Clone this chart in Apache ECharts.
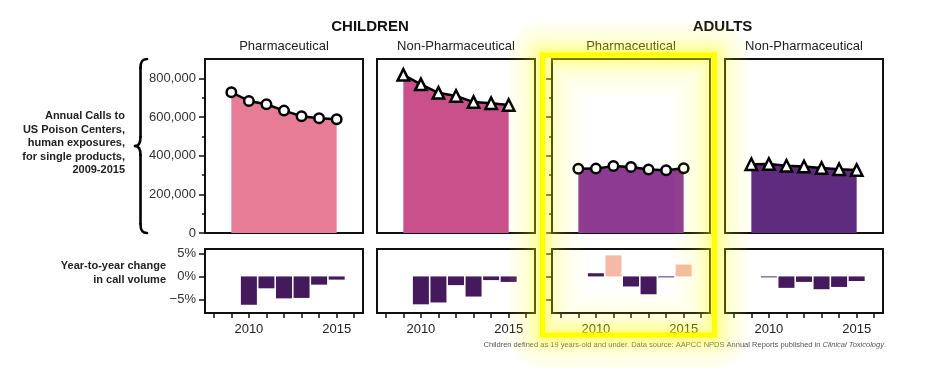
<!DOCTYPE html>
<html><head><meta charset="utf-8">
<script src="https://cdn.jsdelivr.net/npm/echarts@6/dist/echarts.min.js"></script>
<style>html,body{margin:0;padding:0;background:#fff}#c{width:931px;height:376px}</style>
</head><body><div id="c"></div>
<script>
// ---------- data ----------
const years = [2009, 2010, 2011, 2012, 2013, 2014, 2015];
const changeYears = [2010, 2011, 2012, 2013, 2014, 2015];
const childPharma = [728000, 683000, 666000, 633000, 604000, 593000, 588000];
const childNonPharma = [818000, 769000, 725000, 709000, 677000, 671000, 662000];
const adultPharma = [332000, 333000, 347000, 341000, 328000, 325000, 335000];
const adultNonPharma = [356000, 357000, 348000, 344000, 336000, 330000, 326000];
const childPharmaChange = [-6.2, -2.6, -4.8, -4.7, -1.8, -0.7];
const childNonPharmaChange = [-6.1, -5.7, -1.9, -4.4, -0.8, -1.2];
const adultPharmaChange = [0.7, 4.6, -2.2, -3.9, -0.2, 2.6];
const adultNonPharmaChange = [-0.2, -2.5, -1.2, -2.8, -2.3, -1.0];
const groupTitles = ['CHILDREN', 'ADULTS'];
const panelTitles = ['Pharmaceutical', 'Non-Pharmaceutical', 'Pharmaceutical', 'Non-Pharmaceutical'];
const callMajorTicks = [0, 200000, 400000, 600000, 800000];
const callMinorTicks = [100000, 300000, 500000, 700000];
const changeTicks = [-5, 0, 5];
const yearTicks = [2008, 2009, 2010, 2011, 2012, 2013, 2014, 2015, 2016];
const yearLabels = [2010, 2015];
const callsLabel = 'Annual Calls to\nUS Poison Centers,\nhuman exposures,\nfor single products,\n2009-2015';
const changeLabel = 'Year-to-year change\nin call volume';
const footnoteMain = 'Children defined as 19 years-old and under. Data source: AAPCC NPDS Annual Reports published in ';
const footnoteItalic = 'Clinical Toxicology';

// ---------- layout / style ----------
const FONT = '"Liberation Sans", Arial, Helvetica, sans-serif';
const LEFTS = [205, 377, 552, 725], W = 158;
const TOP_Y = 59, TOP_H = 174, BOT_Y = 249, BOT_H = 64;
const AREA_COLORS = ['#e77c97', '#c9508b', '#8d3a93', '#5e2b7f'];
const SYMBOLS = ['circle', 'triangle', 'circle', 'triangle'];
const DARK = '#441a5d', PINK = '#f4baa6';
const calls = [childPharma, childNonPharma, adultPharma, adultNonPharma];
const changes = [childPharmaChange, childNonPharmaChange, adultPharmaChange, adultNonPharmaChange];
const tickLine = {color: '#111', width: 1.5};

const grid = [], xAxis = [], yAxis = [], series = [];
function fmtNum(v) { return Number(v).toLocaleString('en-US'); }
function fmtPct(v) { return (v < 0 ? '\u2212' + Math.abs(v) : String(v)) + '%'; }

for (let i = 0; i < 4; i++) {
  const showTicks = (i === 0 || i === 2);
  const gTop = grid.length;
  grid.push({left: LEFTS[i], top: TOP_Y, width: W, height: TOP_H, show: true,
    borderColor: '#111', borderWidth: 2, backgroundColor: 'transparent'});
  const gBot = grid.length;
  grid.push({left: LEFTS[i], top: BOT_Y, width: W, height: BOT_H, show: true,
    borderColor: '#111', borderWidth: 2, backgroundColor: 'transparent'});

  const xTop = xAxis.length;
  xAxis.push({gridIndex: gTop, type: 'value', min: 2007.5, max: 2016.5, show: false});
  const xBot = xAxis.length;
  xAxis.push({gridIndex: gBot, type: 'value', position: 'bottom', min: 2007.5, max: 2016.5,
    axisLine: {show: false, onZero: false}, splitLine: {show: false},
    axisTick: {show: true, customValues: yearTicks, length: 5, lineStyle: tickLine},
    axisLabel: {show: true, customValues: yearLabels, formatter: v => String(v),
      fontSize: 13, color: '#222', fontFamily: FONT, margin: 10}});

  const yTop = yAxis.length;
  yAxis.push({gridIndex: gTop, type: 'value', position: 'left', min: 0, max: 900000,
    axisLine: {show: false, onZero: false}, splitLine: {show: false},
    axisTick: {show: showTicks, customValues: callMajorTicks, length: 6, lineStyle: tickLine},
    axisLabel: {show: i === 0, customValues: callMajorTicks, formatter: fmtNum,
      fontSize: 13, color: '#333', fontFamily: FONT, margin: 9}});
  yAxis.push({gridIndex: gTop, type: 'value', position: 'left', offset: 0, min: 0, max: 900000,
    axisLine: {show: false, onZero: false}, splitLine: {show: false},
    axisTick: {show: showTicks, customValues: callMinorTicks, length: 3, lineStyle: tickLine},
    axisLabel: {show: false}});
  const yBot = yAxis.length;
  yAxis.push({gridIndex: gBot, type: 'value', position: 'left', min: -8, max: 6,
    axisLine: {show: false, onZero: false}, splitLine: {show: false},
    axisTick: {show: showTicks, customValues: changeTicks, length: 6, lineStyle: tickLine},
    axisLabel: {show: i === 0, customValues: changeTicks, formatter: fmtPct,
      fontSize: 13, color: '#333', fontFamily: FONT, margin: 9}});

  const tri = SYMBOLS[i] === 'triangle';
  series.push({type: 'line', xAxisIndex: xTop, yAxisIndex: yTop,
    data: years.map((y, k) => [y, calls[i][k]]),
    symbol: SYMBOLS[i], symbolSize: tri ? 11.5 : 9.5, showSymbol: true,
    lineStyle: {color: '#000', width: 2.5},
    itemStyle: {color: '#fff', borderColor: '#000', borderWidth: 2.5},
    areaStyle: {color: AREA_COLORS[i], opacity: 1},
    animation: false, silent: true});
  series.push({type: 'bar', xAxisIndex: xBot, yAxisIndex: yBot,
    data: changeYears.map((y, k) => [y, changes[i][k]]),
    barWidth: 16,
    itemStyle: {color: p => (p.value[1] > 1 ? PINK : DARK)},
    animation: false, silent: true});
}

const graphic = [];
// group titles
graphic.push({type: 'text', style: {text: groupTitles[0], x: (LEFTS[0] + LEFTS[1] + W) / 2, y: 27,
  textAlign: 'center', textVerticalAlign: 'middle', fill: '#111', font: 'bold 15px ' + FONT}});
graphic.push({type: 'text', style: {text: groupTitles[1], x: (LEFTS[2] + LEFTS[3] + W) / 2 + 5, y: 27,
  textAlign: 'center', textVerticalAlign: 'middle', fill: '#111', font: 'bold 15px ' + FONT}});
for (let i = 0; i < 4; i++) {
  graphic.push({type: 'text', style: {text: panelTitles[i], x: LEFTS[i] + W / 2, y: 46,
    textAlign: 'center', textVerticalAlign: 'middle', fill: '#222', font: '13px ' + FONT}});
}
// left labels
graphic.push({type: 'text', style: {text: callsLabel, x: 125, y: 143, textAlign: 'right',
  textVerticalAlign: 'middle', fill: '#222', font: 'bold 11px ' + FONT, lineHeight: 13.5}});
graphic.push({type: 'text', style: {text: changeLabel, x: 166, y: 273, textAlign: 'right',
  textVerticalAlign: 'middle', fill: '#222', font: 'bold 11px ' + FONT, lineHeight: 14.5}});
// footnote
graphic.push({type: 'text', style: {
  text: '{a|' + footnoteMain + '}{i|' + footnoteItalic + '}{a|.}',
  x: 886, y: 345, textAlign: 'right', textVerticalAlign: 'middle',
  rich: {a: {fontSize: 7.5, fontFamily: FONT, fill: '#555', color: '#555'},
         i: {fontSize: 7.5, fontFamily: FONT, fontStyle: 'italic', fill: '#555', color: '#555'}}}});
// curly brace
const braceStyle = {stroke: '#000', lineWidth: 2.6, fill: null, lineCap: 'round'};
graphic.push({type: 'bezierCurve', shape: {x1: 147, y1: 59, cpx1: 142, cpy1: 59, cpx2: 140.5, cpy2: 62, x2: 140.5, y2: 68}, style: braceStyle});
graphic.push({type: 'line', shape: {x1: 140.5, y1: 68, x2: 140.5, y2: 137}, style: braceStyle});
graphic.push({type: 'bezierCurve', shape: {x1: 140.5, y1: 137, cpx1: 140.5, cpy1: 143, cpx2: 139, cpy2: 146, x2: 135, y2: 146}, style: braceStyle});
graphic.push({type: 'bezierCurve', shape: {x1: 135, y1: 146, cpx1: 139, cpy1: 146, cpx2: 140.5, cpy2: 149, x2: 140.5, y2: 155}, style: braceStyle});
graphic.push({type: 'line', shape: {x1: 140.5, y1: 155, x2: 140.5, y2: 224}, style: braceStyle});
graphic.push({type: 'bezierCurve', shape: {x1: 140.5, y1: 224, cpx1: 140.5, cpy1: 230, cpx2: 142, cpy2: 233, x2: 147, y2: 233}, style: braceStyle});
// yellow highlight around adult pharmaceutical panel
const HL = {x: 542.5, y: 55, w: 172, h: 280};
for (let d = -32; d <= 40; d += 2) {
  if (d === 0) continue;
  const a = 0.6 * Math.exp(-Math.abs(d) / 13);
  graphic.push({type: 'rect', silent: true, z: 100,
    shape: {x: HL.x + d, y: HL.y + d, width: HL.w - 2 * d, height: HL.h - 2 * d, r: d < 0 ? -d : 0},
    style: {fill: null, stroke: 'rgba(255,255,0,' + a.toFixed(3) + ')', lineWidth: 2}});
}
graphic.push({type: 'rect', silent: true, z: 101,
  shape: {x: HL.x, y: HL.y, width: HL.w, height: HL.h},
  style: {fill: null, stroke: '#ffff00', lineWidth: 5}});

const chart = echarts.init(document.getElementById('c'), null, {renderer: 'canvas'});
chart.setOption({animation: false, backgroundColor: '#fff', grid, xAxis, yAxis, series, graphic});
</script>
</body></html>
